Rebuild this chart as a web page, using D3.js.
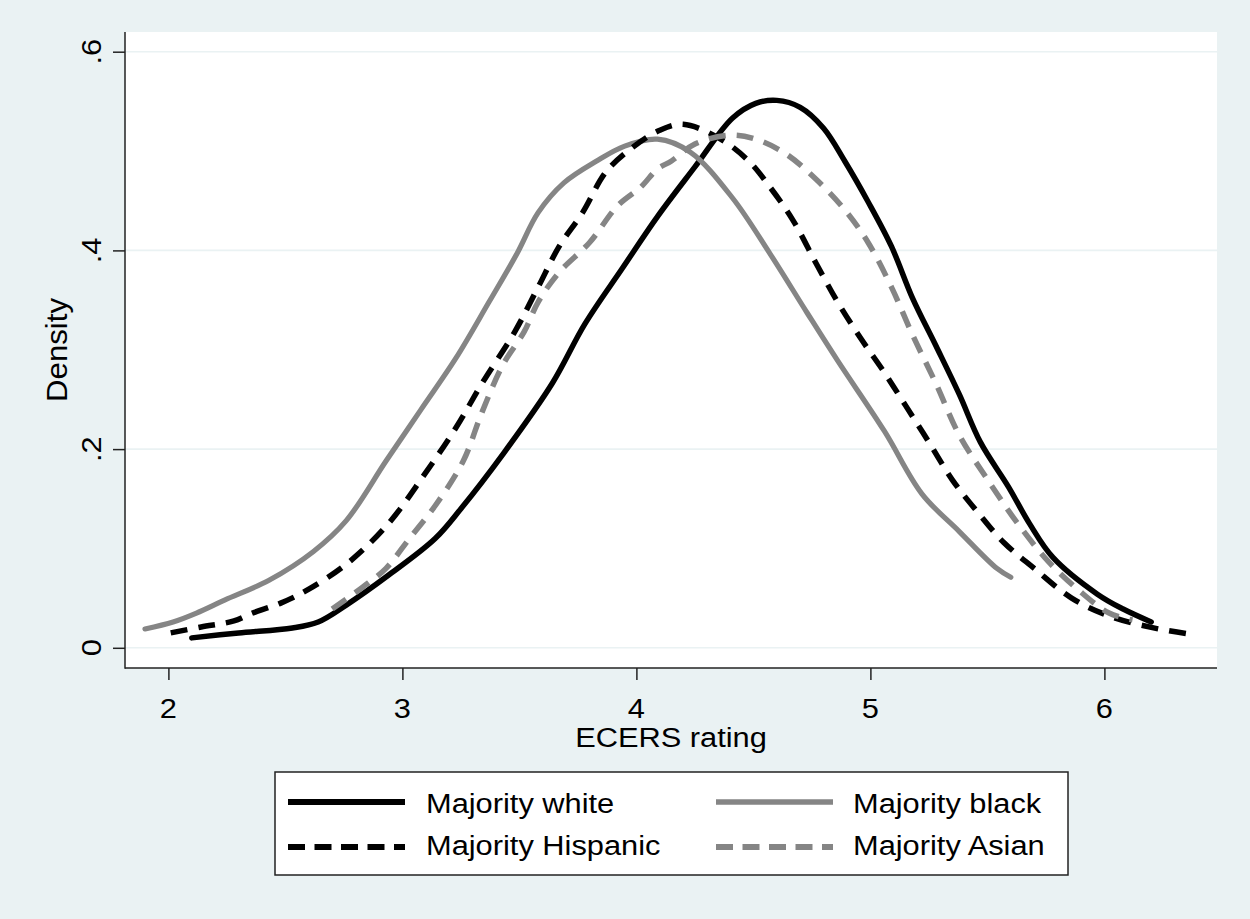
<!DOCTYPE html>
<html>
<head>
<meta charset="utf-8">
<script src="https://cdn.jsdelivr.net/npm/d3@7"></script>
<style>
  html, body { margin: 0; padding: 0; background: #EAF2F3; }
  svg { display: block; }
  text { font-family: "Liberation Sans", Arial, sans-serif; fill: #000; }
</style>
</head>
<body>
<svg id="chart" width="1250" height="919"></svg>
<script>
// ---- data ----
const xTicks = [2, 3, 4, 5, 6];
const xTickLabels = ["2", "3", "4", "5", "6"];
const yTicks = [0, 0.2, 0.4, 0.6];
const yTickLabels = ["0", ".2", ".4", ".6"];
const xTitle = "ECERS rating";
const yTitle = "Density";

const whiteX = [2.10, 2.30, 2.53, 2.64, 2.76, 2.94, 3.14, 3.25, 3.43, 3.64, 3.78, 3.94, 4.09, 4.25, 4.41, 4.51, 4.60, 4.70, 4.80, 4.89, 4.99, 5.09, 5.18, 5.28, 5.38, 5.47, 5.59, 5.68, 5.78, 5.97, 6.08, 6.20];
const whiteY = [.010, .015, .020, .026, .043, .073, .110, .140, .195, .266, .326, .382, .434, .484, .533, .548, .551, .544, .523, .490, .449, .404, .352, .304, .255, .207, .162, .125, .091, .054, .039, .026];

const hispX = [2.01, 2.14, 2.28, 2.36, 2.48, 2.60, 2.77, 2.94, 3.09, 3.23, 3.34, 3.48, 3.58, 3.67, 3.77, 3.87, 3.98, 4.10, 4.20, 4.36, 4.48, 4.57, 4.67, 4.77, 4.86, 4.96, 5.06, 5.15, 5.25, 5.35, 5.46, 5.57, 5.70, 5.86, 6.02, 6.21, 6.39];
const hispY = [.015, .021, .027, .035, .045, .059, .086, .125, .173, .222, .266, .318, .363, .404, .438, .479, .503, .521, .527, .512, .490, .464, .430, .386, .348, .311, .277, .244, .207, .169, .136, .106, .080, .050, .032, .020, .013];

const blackX = [1.90, 2.02, 2.12, 2.24, 2.43, 2.62, 2.76, 2.93, 3.08, 3.23, 3.37, 3.49, 3.58, 3.69, 3.83, 3.95, 4.09, 4.23, 4.41, 4.57, 4.73, 4.86, 5.06, 5.22, 5.38, 5.54, 5.60];
const blackY = [.019, .026, .035, .048, .068, .097, .128, .188, .240, .292, .348, .397, .438, .468, .490, .505, .512, .499, .453, .397, .337, .289, .218, .155, .117, .080, .071];

const asianX = [2.70, 2.83, 2.93, 3.03, 3.14, 3.26, 3.34, 3.43, 3.52, 3.58, 3.67, 3.80, 3.92, 4.02, 4.09, 4.15, 4.25, 4.40, 4.51, 4.64, 4.77, 4.89, 4.99, 5.09, 5.18, 5.28, 5.38, 5.51, 5.63, 5.76, 5.89, 6.02, 6.12];
const asianY = [.039, .061, .080, .110, .143, .188, .237, .285, .318, .348, .378, .408, .445, .464, .482, .490, .507, .516, .512, .497, .471, .441, .408, .363, .315, .266, .214, .166, .125, .087, .058, .035, .028];

const seriesNames = ["Majority white", "Majority black", "Majority Hispanic", "Majority Asian"];

// ---- layout ----
const svg = d3.select("#chart");
const W = 1250, H = 919;
const plot = { left: 125, right: 1217, top: 32, bottom: 668 };

svg.append("rect").attr("width", W).attr("height", H).attr("fill", "#EAF2F3");
svg.append("rect")
  .attr("x", plot.left).attr("y", plot.top)
  .attr("width", plot.right - plot.left).attr("height", plot.bottom - plot.top)
  .attr("fill", "#ffffff");

const x = d3.scaleLinear().domain([2, 6]).range([168.4, 1104.4]);
const y = d3.scaleLinear().domain([0, 0.6]).range([647.8, 51.7]);

// gridlines
svg.append("g").selectAll("line").data(yTicks).join("line")
  .attr("x1", plot.left).attr("x2", plot.right)
  .attr("y1", d => y(d)).attr("y2", d => y(d))
  .attr("stroke", "#EAF2F3").attr("stroke-width", 1.6);

// curves
const series = [
  { name: seriesNames[0], xs: whiteX, ys: whiteY, color: "#000000", dash: null, width: 5.5 },
  { name: seriesNames[1], xs: blackX, ys: blackY, color: "#858585", dash: null, width: 5.2 },
  { name: seriesNames[2], xs: hispX, ys: hispY, color: "#000000", dash: "17,11", width: 5.5 },
  { name: seriesNames[3], xs: asianX, ys: asianY, color: "#858585", dash: "17,11", width: 5.5 }
];

const line = d3.line()
  .x(d => x(d[0])).y(d => y(d[1]))
  .curve(d3.curveCatmullRom.alpha(0.5));

const g = svg.append("g");
series.forEach(s => {
  const pts = s.xs.map((v, i) => [v, s.ys[i]]);
  g.append("path")
    .datum(pts)
    .attr("d", line)
    .attr("fill", "none")
    .attr("stroke", s.color)
    .attr("stroke-width", s.width)
    .attr("stroke-linejoin", "round")
    .attr("stroke-linecap", s.dash ? "butt" : "round")
    .attr("stroke-dasharray", s.dash);
});

// axes
const axisColor = "#222";
const yAxis = svg.append("g").attr("transform", `translate(${plot.left},0)`)
  .call(d3.axisLeft(y).tickValues(yTicks).tickSize(12).tickFormat(""));
yAxis.select(".domain").remove();
yAxis.selectAll("line").attr("stroke", axisColor).attr("stroke-width", 1.5);

const xAxis = svg.append("g").attr("transform", `translate(0,${plot.bottom})`)
  .call(d3.axisBottom(x).tickValues(xTicks).tickSize(12).tickFormat(""));
xAxis.select(".domain").remove();
xAxis.selectAll("line").attr("stroke", axisColor).attr("stroke-width", 1.5);

svg.append("line").attr("x1", plot.left).attr("x2", plot.left)
  .attr("y1", plot.top).attr("y2", plot.bottom + 0.75)
  .attr("stroke", axisColor).attr("stroke-width", 1.5);
svg.append("line").attr("x1", plot.left).attr("x2", plot.right)
  .attr("y1", plot.bottom).attr("y2", plot.bottom)
  .attr("stroke", axisColor).attr("stroke-width", 1.5);

// tick labels
svg.append("g").selectAll("text").data(xTicks).join("text")
  .attr("transform", d => `translate(${x(d)},718) scale(1.1,1)`)
  .attr("text-anchor", "middle").attr("font-size", 28)
  .text((d, i) => xTickLabels[i]);

svg.append("g").selectAll("text").data(yTicks).join("text")
  .attr("transform", d => `translate(101,${y(d)}) rotate(-90) scale(1.1,1)`)
  .attr("text-anchor", "middle").attr("font-size", 28)
  .text((d, i) => yTickLabels[i]);

// axis titles
svg.append("text")
  .attr("transform", `translate(${(plot.left + plot.right) / 2},747) scale(1.1,1)`)
  .attr("text-anchor", "middle").attr("font-size", 28)
  .text(xTitle);
svg.append("text")
  .attr("transform", `translate(67,${(plot.top + plot.bottom) / 2}) rotate(-90) scale(1.04,1)`)
  .attr("text-anchor", "middle").attr("font-size", 30)
  .text(yTitle);

// legend
const lg = svg.append("g");
lg.append("rect").attr("x", 275).attr("y", 772).attr("width", 793).attr("height", 103)
  .attr("fill", "#fff").attr("stroke", "#222").attr("stroke-width", 1.5);
const legendPos = [
  { lx: 288, tx: 426, ly: 802, ty: 813 },
  { lx: 716, tx: 853, ly: 802, ty: 813 },
  { lx: 288, tx: 426, ly: 847, ty: 855 },
  { lx: 716, tx: 853, ly: 847, ty: 855 }
];
series.forEach((s, i) => {
  const p = legendPos[i];
  lg.append("line")
    .attr("x1", p.lx).attr("x2", p.lx + 117)
    .attr("y1", p.ly).attr("y2", p.ly)
    .attr("stroke", s.color).attr("stroke-width", s.width + 0.5)
    .attr("stroke-dasharray", s.dash ? "17,9.5" : null);
  lg.append("text")
    .attr("transform", `translate(${p.tx},${p.ty}) scale(1.1,1)`)
    .attr("font-size", 28)
    .text(s.name);
});
</script>
</body>
</html>
